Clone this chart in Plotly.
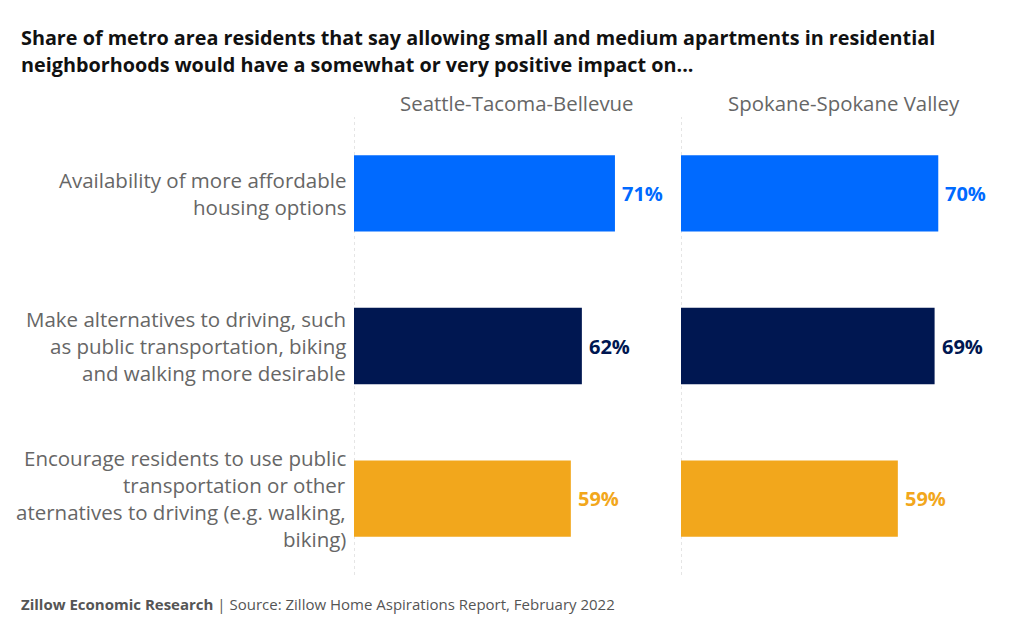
import plotly.graph_objects as go

# ---- data ----
categories = [
    "Availability of more affordable<br>housing options",
    "Make alternatives to driving, such<br>as public transportation, biking<br>and walking more desirable",
    "Encourage residents to use public<br>transportation or other<br>aternatives to driving (e.g. walking,<br>biking)",
]
metros = ["Seattle-Tacoma-Bellevue", "Spokane-Spokane Valley"]
seattle_values = [71, 62, 59]
spokane_values = [70, 69, 59]
bar_colors = ["#006AFF", "#001751", "#F2A71C"]

title_lines = [
    "Share of metro area residents that say allowing small and medium apartments in residential",
    "neighborhoods would have a somewhat or very positive impact on...",
]
footer_bold = "Zillow Economic Research"
footer_rest = " | Source: Zillow Home Aspirations Report, February 2022"

# ---- layout constants (page body has an 8px margin) ----
OFF = 8
W, H = 1024 - OFF, 640 - OFF
FONT = "Open Sans"
GREY = "#666666"
X_MAX = 88.7


def px(x):
    return (x - OFF) / W


def py(y):
    return 1 - (y - OFF) / H


left_dom = [px(354), px(680)]
right_dom = [px(681), px(1007)]
y_dom = [py(575), py(117)]
LINE_H = 27

fig = go.Figure()

series = [seattle_values, spokane_values]
axes = [("x", "y"), ("x2", "y2")]
annotations = []
for vals, (xa, ya) in zip(series, axes):
    fig.add_trace(go.Bar(
        x=vals, y=categories, orientation="h",
        marker=dict(color=bar_colors, line=dict(width=0)),
        width=0.5,
        hoverinfo="skip",
        xaxis=xa, yaxis=ya,
    ))
    for v, c, col in zip(vals, categories, bar_colors):
        annotations.append(dict(
            text=f"{v}%", xref=xa, yref=ya, x=v, y=c, xanchor="left",
            yanchor="middle", xshift=5, showarrow=False,
            font=dict(family=FONT, size=20, color=col, weight="bold")))

common_x = dict(range=[0, X_MAX], showgrid=False, zeroline=False,
                showticklabels=False, showline=False, fixedrange=True)
common_y = dict(range=[2.5, -0.5], showgrid=False, zeroline=False,
                showticklabels=False, showline=False, fixedrange=True,
                type="category", categoryorder="array", categoryarray=categories,
                domain=y_dom)

fig.update_layout(
    xaxis=dict(domain=left_dom, anchor="y", **common_x),
    xaxis2=dict(domain=right_dom, anchor="y2", **common_x),
    yaxis=dict(anchor="x", **common_y),
    yaxis2=dict(anchor="x2", **common_y),
)

shapes = []
for xa in ["x", "x2"]:
    shapes.append(dict(type="line", xref=xa, x0=0, x1=0,
                       yref="paper", y0=y_dom[0], y1=y_dom[1],
                       line=dict(color="#cccccc", width=1, dash="dot"),
                       layer="below"))

# title
for i, line in enumerate(title_lines):
    annotations.append(dict(
        text=line, xref="paper", yref="paper", x=px(19), y=py(37 + i * LINE_H),
        xanchor="left", yanchor="middle", showarrow=False,
        font=dict(family=FONT, size=19.8, color="#111111", weight="bold")))
# panel headers
for xa, name in zip(["x", "x2"], metros):
    annotations.append(dict(
        text=name, xref=f"{xa} domain", yref="paper", x=0.5, y=py(103),
        xanchor="center", yanchor="middle", showarrow=False,
        font=dict(family=FONT, size=20.4, color=GREY)))
# category labels, one annotation per line for wider line spacing
for cat in categories:
    lines = cat.split("<br>")
    n = len(lines)
    for j, ln in enumerate(lines):
        annotations.append(dict(
            text=ln, xref="paper", yref="y", x=px(348), y=cat,
            yshift=((n - 1) / 2 - j) * LINE_H,
            xanchor="right", yanchor="middle", showarrow=False,
            font=dict(family=FONT, size=20.5, color=GREY)))
# footer
annotations.append(dict(
    text=f"<b>{footer_bold}</b>{footer_rest}", xref="paper", yref="paper",
    x=px(19), y=py(604), xanchor="left", yanchor="middle", showarrow=False,
    font=dict(family=FONT, size=15, color="#555555")))

fig.update_layout(
    width=W, height=H, autosize=False,
    margin=dict(l=0, r=0, t=0, b=0),
    paper_bgcolor="white", plot_bgcolor="white",
    showlegend=False, bargap=0.5,
    font=dict(family=FONT, color=GREY),
    shapes=shapes, annotations=annotations,
)

fig.write_html("out.html")
